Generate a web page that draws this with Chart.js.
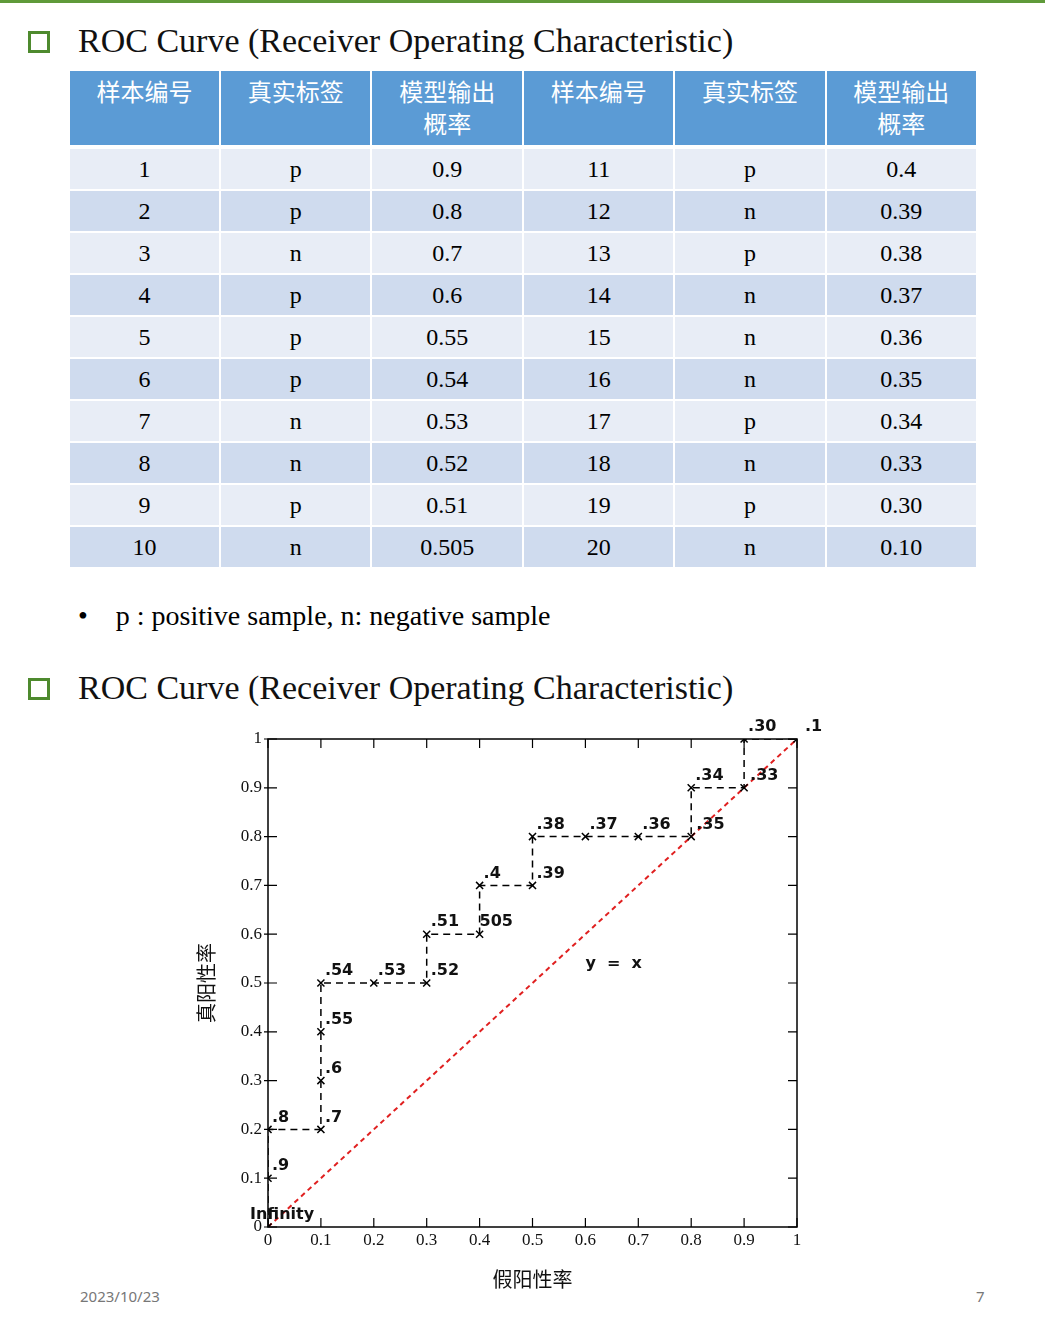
<!DOCTYPE html>
<html><head><meta charset="utf-8">
<script src="https://cdn.jsdelivr.net/npm/chart.js@4"></script>
<style>
body{margin:0;width:1045px;height:1317px;position:relative;background:#fff;font-family:"Liberation Serif",serif;overflow:hidden}
.topline{position:absolute;left:0;top:0;width:1045px;height:3px;background:#5f9a3a}
.sq{position:absolute;width:16px;height:16px;border:3px solid #4e8a2e}
.h{position:absolute;font-size:34px;color:#111}
table{position:absolute;left:68px;top:69px;border-collapse:collapse;width:910px}
td,th{border:2px solid #fff;text-align:center;font-size:24px;height:40px;padding:0;width:151px}
th{background:#5b9bd5;color:#fff;font-family:"Noto Sans CJK SC";font-weight:normal;height:70px;line-height:32px;vertical-align:top;padding-top:4px;border-bottom:4px solid #fff}
tr:nth-child(odd) td{background:#cfdbee}
tr:nth-child(even) td{background:#e8edf6}
.note{position:absolute;left:78px;top:600px;font-size:28px}
.foot{position:absolute;top:1286px;font-family:"Noto Sans";font-size:15px;color:#777}
canvas{position:absolute;left:190px;top:710px}
</style></head><body>
<div class="topline"></div>
<div class="sq" style="left:28px;top:31px"></div>
<div class="h" style="left:78px;top:22px">ROC Curve (Receiver Operating Characteristic)</div>
<table id="tbl"></table>
<div class="note">•&nbsp;&nbsp;&nbsp; p : positive sample, n: negative sample</div>
<div class="sq" style="left:28px;top:678px"></div>
<div class="h" style="left:78px;top:669px">ROC Curve (Receiver Operating Characteristic)</div>
<canvas id="c" width="660" height="600" style="width:660px;height:600px"></canvas>
<div class="foot" style="left:80px">2023/10/23</div>
<div class="foot" style="left:976px">7</div>
<script>
const ids = [1,2,3,4,5,6,7,8,9,10,11,12,13,14,15,16,17,18,19,20];
const labels = ['p','p','n','p','p','p','n','n','p','n','p','n','p','n','n','n','p','n','p','n'];
const probs = ['0.9','0.8','0.7','0.6','0.55','0.54','0.53','0.52','0.51','0.505','0.4','0.39','0.38','0.37','0.36','0.35','0.34','0.33','0.30','0.10'];
const headers = ['样本编号','真实标签','模型输出<br>概率','样本编号','真实标签','模型输出<br>概率'];

let html = '<tr>' + headers.map(h => '<th>' + h + '</th>').join('') + '</tr>';
for (let i = 0; i < 10; i++) {
  html += '<tr><td>' + ids[i] + '</td><td>' + labels[i] + '</td><td>' + probs[i] + '</td><td>' +
    ids[i+10] + '</td><td>' + labels[i+10] + '</td><td>' + probs[i+10] + '</td></tr>';
}
document.getElementById('tbl').innerHTML = html;

// ROC points
const fpr = [0,0,0,0.1,0.1,0.1,0.1,0.2,0.3,0.3,0.4,0.4,0.5,0.5,0.6,0.7,0.8,0.8,0.9,0.9,1];
const tpr = [0,0.1,0.2,0.2,0.3,0.4,0.5,0.5,0.5,0.6,0.6,0.7,0.7,0.8,0.8,0.8,0.8,0.9,0.9,1,1];
const ptLabels = ['Infinity','.9','.8','.7','.6','.55','.54','.53','.52','.51','505','.4','.39','.38','.37','.36','.35','.34','.33','.30','.1'];
const tickVals = [0,0.1,0.2,0.3,0.4,0.5,0.6,0.7,0.8,0.9,1];
const tickLabels = ['0','0.1','0.2','0.3','0.4','0.5','0.6','0.7','0.8','0.9','1'];

const offsets = {'Infinity':[-18,-12],'.30':[4,-12],'.1':[8,-12],'.33':[6,-12],'.35':[5,-12],'505':[0,-12]};

const deco = {
  id:'deco',
  afterDatasetsDraw(chart){
    const c = chart.ctx, a = chart.chartArea, x = chart.scales.x, y = chart.scales.y;
    c.save();
    c.strokeStyle = '#000'; c.lineWidth = 1.5;
    c.strokeRect(a.left, a.top, a.right - a.left, a.bottom - a.top);
    c.lineWidth = 1.2;
    c.font = '17px "Liberation Serif"'; c.fillStyle = '#111';
    tickVals.forEach((v, i) => {
      const px = x.getPixelForValue(v), py = y.getPixelForValue(v);
      c.beginPath();
      c.moveTo(px, a.bottom); c.lineTo(px, a.bottom - 9);
      c.moveTo(px, a.top); c.lineTo(px, a.top + 9);
      c.moveTo(a.left - 4, py); c.lineTo(a.left + 9, py);
      c.moveTo(a.right, py); c.lineTo(a.right - 9, py);
      c.stroke();
      c.textAlign = 'center'; c.textBaseline = 'top';
      c.fillText(tickLabels[i], px, a.bottom + 5);
      c.textAlign = 'right'; c.textBaseline = 'middle';
      c.fillText(tickLabels[i], a.left - 6, py);
    });
    c.font = 'bold 16px "DejaVu Sans"'; c.textAlign = 'left'; c.textBaseline = 'middle';
    fpr.forEach((v, i) => {
      const o = offsets[ptLabels[i]] || [4, -12];
      c.fillText(ptLabels[i], x.getPixelForValue(v) + o[0], y.getPixelForValue(tpr[i]) + o[1]);
    });
    c.fillText('y  =  x', x.getPixelForValue(0.6), y.getPixelForValue(0.54));
    c.font = '20px "Noto Sans CJK SC"'; c.textAlign = 'center';
    c.fillText('假阳性率', x.getPixelForValue(0.5), a.bottom + 52);
    c.translate(a.left - 62, y.getPixelForValue(0.5));
    c.rotate(-Math.PI / 2);
    c.fillText('真阳性率', 0, 0);
    c.restore();
  }
};

new Chart(document.getElementById('c'), {
  type: 'scatter',
  data: {
    datasets: [{
      data: fpr.map((v, i) => ({x: v, y: tpr[i]})),
      showLine: true, borderColor: '#000', borderWidth: 1.5, borderDash: [7, 5],
      pointStyle: 'crossRot', pointRadius: 5, pointBorderColor: '#000', pointBorderWidth: 1.5
    }, {
      data: [{x: 0, y: 0}, {x: 1, y: 1}],
      showLine: true, borderColor: '#e02020', borderWidth: 2, borderDash: [5, 4], pointRadius: 0
    }]
  },
  options: {
    responsive: false, animation: false,
    layout: {padding: {left: 78, right: 53, top: 29, bottom: 83}},
    plugins: {legend: {display: false}, tooltip: {enabled: false}},
    scales: {
      x: {display: false, min: 0, max: 1},
      y: {display: false, min: 0, max: 1}
    }
  },
  plugins: [deco]
});
</script>
</body></html>
